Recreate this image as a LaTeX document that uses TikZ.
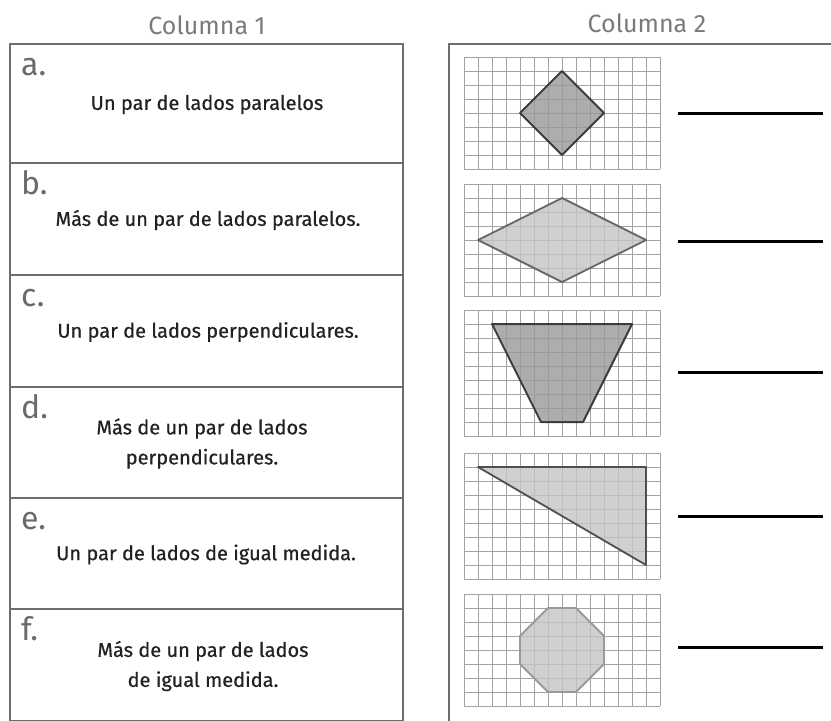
\documentclass[tikz,border=0pt]{standalone}
\usepackage{fontspec}
\setmainfont{Fira Sans}
\newfontfamily\bodyfam{Fira Sans}[FakeBold=0.6]
\usetikzlibrary{calc}

\definecolor{boxgray}{HTML}{6E6E6E}
\definecolor{titlegray}{HTML}{7A7A7A}
\definecolor{lettergray}{HTML}{6A6A6A}
\definecolor{textdark}{HTML}{222222}
\definecolor{gridgray}{HTML}{A3A3A3}
\definecolor{darkfill}{HTML}{999999}
\definecolor{lightfill}{HTML}{C4C4C4}
\definecolor{edgedark}{HTML}{3C3C3C}
\definecolor{edgemid}{HTML}{666666}
\definecolor{edgelight}{HTML}{9A9A9A}

\begin{document}
\begin{tikzpicture}[
  x=1pt, y=-1pt,
  every node/.style = {inner sep=0pt, align=center, text=textdark, font=\bodyfam\fontsize{20}{30}\selectfont},
  heading/.style = {text=titlegray, font=\fontsize{25}{30}\selectfont},
  letter/.style = {anchor=base west, text=lettergray, font=\fontsize{32}{36}\selectfont},
  frame/.style = {draw=boxgray, line width=1.4pt},
  gridline/.style = {draw=gridgray, line width=0.6pt},
  darkpoly/.style = {fill=darkfill, fill opacity=0.8, draw=edgedark, line width=2pt, line join=round},
  lightpoly/.style = {fill=lightfill, fill opacity=0.8, draw=edgemid, line width=1.8pt, line join=round},
  answer/.style = {draw=black, line width=3pt}
]
  \useasboundingbox (0,0) rectangle (831,721);

  % headings
  \node[heading] (col1) at (207,25) {Columna 1};
  \node[heading] (col2) at (647,23) {Columna 2};

  % column 1
  \draw[frame] (10,721) -- (10,44) -- (403,44) -- (403,721);
  \foreach \tp/\bt/\cx/\lbl/\txt [count=\r] in {
      44/163/207/a/{Un par de lados paralelos},
      163/275/208/b/{Más de un par de lados paralelos.},
      275/387/208/c/{Un par de lados perpendiculares.},
      387/498/202/d/{Más de un par de lados\\perpendiculares.},
      498/609/206/e/{Un par de lados de igual medida.},
      609/721/203/f/{Más de un par de lados\\de igual medida.}} {
    \draw[frame] (10,\bt) -- (403,\bt);
    \node[letter] (lab\r) at (21,\tp+31) {\lbl.};
    \node (row\r) at (\cx,{(\tp+\bt)/2+1}) {\txt};
  }

  % column 2
  \draw[frame] (831,44) -- (449,44) -- (449,721);
  \foreach \gtop/\grows [count=\g] in {57/8,184/8,310/9,453/9,594/8} {
    \coordinate (g\g) at (464,\gtop);
    \begin{scope}[shift={(g\g)}, x=14pt, y=-14pt]
      \foreach \i in {0,...,14} \draw[gridline] (\i,0) -- (\i,\grows);
      \foreach \j in {0,...,\grows} \draw[gridline] (0,\j) -- (14,\j);
    \end{scope}
  }

  \begin{scope}[shift={(g1)}, x=14pt, y=-14pt]
    \draw[darkpoly] (7,1) -- (10,4) -- (7,7) -- (4,4) -- cycle;
  \end{scope}
  \begin{scope}[shift={(g2)}, x=14pt, y=-14pt]
    \draw[lightpoly] (7,1) -- (13,4) -- (7,7) -- (1,4) -- cycle;
  \end{scope}
  \begin{scope}[shift={(g3)}, x=14pt, y=-14pt]
    \draw[darkpoly] (2,1) -- (12,1) -- (8.5,8) -- (5.5,8) -- cycle;
  \end{scope}
  \begin{scope}[shift={(g4)}, x=14pt, y=-14pt]
    \draw[lightpoly, draw=edgedark!90] (1,1) -- (13,1) -- (13,8) -- cycle;
  \end{scope}
  \begin{scope}[shift={(g5)}, x=14pt, y=-14pt]
    \draw[lightpoly, draw=edgelight] (6,1) -- (8,1) -- (10,3) -- (10,5) -- (8,7) -- (6,7) -- (4,5) -- (4,3) -- cycle;
  \end{scope}

  % answer lines
  \foreach \ay in {113,241,372,516,647}
    \draw[answer] (678,\ay) -- (823,\ay);
\end{tikzpicture}
\end{document}
